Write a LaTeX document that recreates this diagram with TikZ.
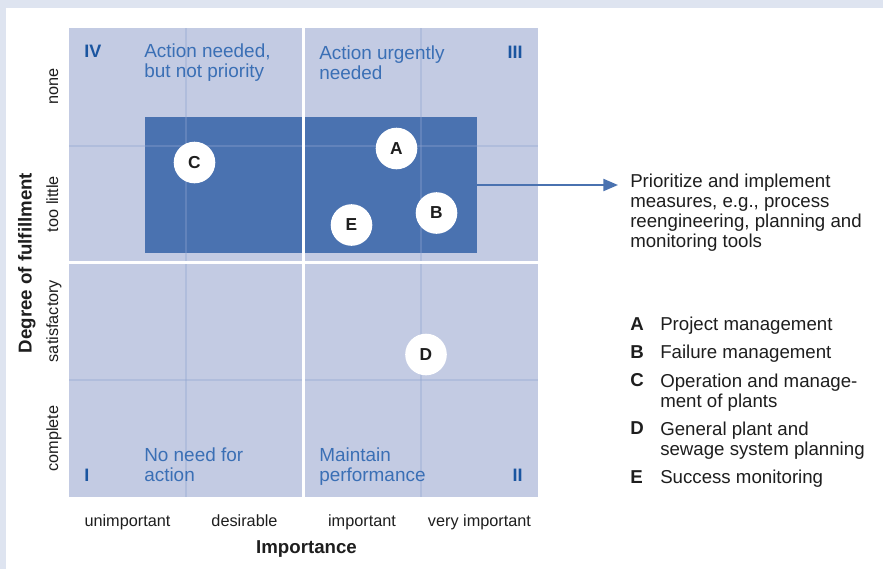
\documentclass[tikz,border=0pt]{standalone}
\usepackage{fontspec}
\setmainfont{Liberation Sans}
\usetikzlibrary{arrows.meta}
\definecolor{framebg}{HTML}{DEE4F0}
\definecolor{gridbg}{HTML}{C3CBE3}
\definecolor{focusblue}{HTML}{4A72B0}
\definecolor{gridline}{HTML}{8FA5D0}
\definecolor{quadtext}{HTML}{3A6FB5}
\definecolor{romanblue}{HTML}{1A55A0}
\definecolor{textblack}{HTML}{1E1E1E}
\tikzset{
  quadlabel/.style={anchor=north west, inner sep=0pt, align=left, text=quadtext,
    font=\fontsize{14.2}{15}\selectfont},
  roman/.style={inner sep=0pt, text=romanblue, font=\fontsize{13.5}{15}\selectfont\bfseries},
  tick/.style={inner sep=0pt, anchor=base, text=textblack, font=\fontsize{12.2}{14}\selectfont},
  axistitle/.style={inner sep=0pt, anchor=base, text=textblack, font=\fontsize{14}{16}\selectfont\bfseries},
  bubble/.style={circle, fill=white, inner sep=0pt, minimum size=31.2pt, text=textblack,
    font=\fontsize{13}{15}\selectfont\bfseries},
  rtext/.style={anchor=north west, inner sep=0pt, align=left, text=textblack,
    font=\fontsize{14}{15}\selectfont},
  legletter/.style={anchor=north west, inner sep=0pt, text=textblack,
    font=\fontsize{14}{15}\selectfont\bfseries},
  thinline/.style={draw=gridline, line width=1.5pt, opacity=0.35},
  divider/.style={draw=white, line width=2.4pt},
  pointer/.style={draw=focusblue, line width=1.6pt, -{Triangle[length=11pt,width=9pt]}}
}
\begin{document}
\begin{tikzpicture}[x=0.75pt, y=-0.75pt]
\useasboundingbox (0,0) rectangle (883,569);
% frame
\fill[framebg] (0,0) rectangle (883,569);
\fill[white] (6,8) rectangle (883,569);
% grid
\fill[gridbg] (69,28) rectangle (538,497);
\node[fill=focusblue, inner sep=0pt, minimum width=249pt, minimum height=102pt] (focus) at (311,185) {};
% thin lines
\draw[thinline] (186,28) -- (186,497);
\draw[thinline] (421,28) -- (421,497);
\draw[thinline] (69,146) -- (538,146);
\draw[thinline] (69,380) -- (538,380);
% dividers
\draw[divider] (303.5,28) -- (303.5,497);
\draw[divider] (69,262.5) -- (538,262.5);
% arrow
\coordinate (tip) at (618,185);
\draw[pointer] (focus.east) -- (tip);
% bubbles
\node[bubble] (C) at (194.5,162.5) {C};
\node[bubble] (A) at (396.5,148.5) {A};
\node[bubble] (B) at (436.5,213) {B};
\node[bubble] (E) at (351.5,225) {E};
\node[bubble] (D) at (426,354.5) {D};
% quadrant texts
\node[quadlabel] (q4) at (144,43.5) {Action needed,\\but not priority};
\node[quadlabel] (q3) at (319,45.5) {Action urgently\\needed};
\node[quadlabel] (q1) at (144,447.5) {No need for\\action};
\node[quadlabel] (q2) at (319,447.5) {Maintain\\performance};
\node[roman, anchor=north west] (r4) at (84,44.5) {IV};
\node[roman, anchor=north east] (r3) at (523,45.5) {III};
\node[roman, anchor=north west] (r1) at (84,469) {I};
\node[roman, anchor=north east] (r2) at (523,469) {II};
% x axis
\node[tick] (x1) at (127.5,526) {unimportant};
\node[tick] (x2) at (244.5,526) {desirable};
\node[tick] (x3) at (362,526) {important};
\node[tick] (x4) at (479.5,526) {very important};
\node[axistitle] (xt) at (306.5,553) {Importance};
% y axis
\node[tick, rotate=90] (y1) at (58,86.5) {none};
\node[tick, rotate=90] (y2) at (58,204) {too little};
\node[tick, rotate=90] (y3) at (58,321) {satisfactory};
\node[tick, rotate=90] (y4) at (58,438.5) {complete};
\node[axistitle, rotate=90] (yt) at (31.5,263) {Degree of fulfillment};
% right text
\node[rtext] (prio) at (630,174) {Prioritize and implement\\measures, e.g., process\\reengineering, planning and\\monitoring tools};
% legend
\node[legletter] (lA) at (630,317) {A};
\node[rtext] (tA) at (660,317) {Project management};
\node[legletter] (lB) at (630,345) {B};
\node[rtext] (tB) at (660,345) {Failure management};
\node[legletter] (lC) at (630,373.5) {C};
\node[rtext] (tC) at (660,373.5) {Operation and manage-\\ment of plants};
\node[legletter] (lD) at (630,421.5) {D};
\node[rtext] (tD) at (660,421.5) {General plant and\\sewage system planning};
\node[legletter] (lE) at (630,470) {E};
\node[rtext] (tE) at (660,470) {Success monitoring};
\end{tikzpicture}
\end{document}
